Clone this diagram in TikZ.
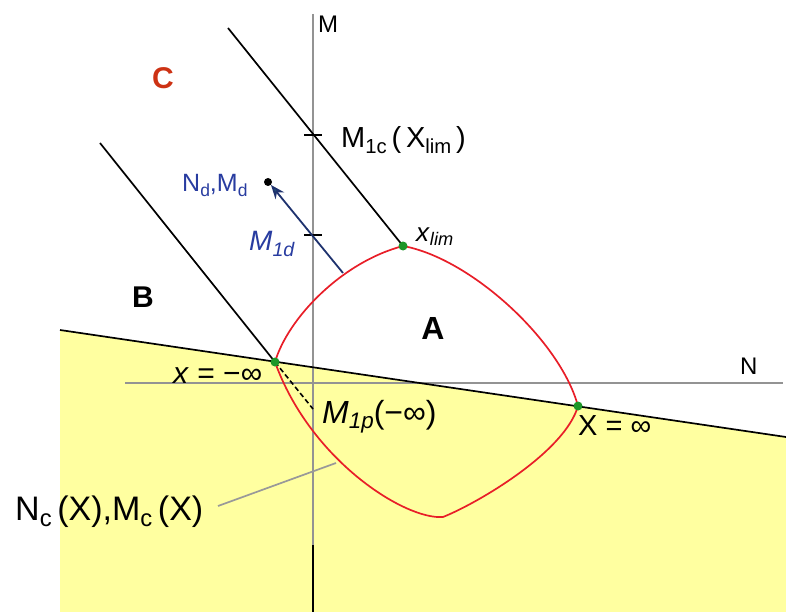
\documentclass[tikz,border=0pt]{standalone}
\usepackage{fontspec}
\setmainfont{Liberation Sans}
\usetikzlibrary{arrows.meta}
\definecolor{fillyellow}{RGB}{255,255,160}
\definecolor{curvered}{RGB}{232,30,40}
\definecolor{ptgreen}{RGB}{30,150,40}
\definecolor{cred}{RGB}{205,50,20}
\definecolor{lblue}{RGB}{40,60,160}
\definecolor{arrnavy}{RGB}{30,50,110}
\definecolor{arrteal}{RGB}{30,100,120}
\newcommand{\lowsub}[1]{\raisebox{-0.35ex}{\scalebox{0.7}{#1}}}
\newcommand{\fsz}[1]{\fontsize{#1}{#1}\selectfont}
\tikzset{
  axisline/.style={draw=gray!85, line width=1.5pt},
  blackline/.style={draw=black, line width=1.7pt},
  greenpt/.style={circle, fill=ptgreen, inner sep=0pt, minimum size=9pt},
  lbl/.style={inner sep=0pt, anchor=base west},
  region/.style={inner sep=0pt, font=\fsz{30}\bfseries},
}
\begin{document}
\begin{tikzpicture}[x=1pt,y=-1pt]
\useasboundingbox (0,0) rectangle (786,612);
% yellow region
\fill[fillyellow] (60,330) -- (786,437) -- (786,612) -- (60,612) -- cycle;
% axes
\coordinate (Mtop) at (313,14);
\coordinate (Mbot) at (313,612);
\coordinate (Nleft) at (125,383);
\coordinate (Nright) at (783,383);
\draw[axisline] (Mtop) -- (Mbot);
\draw[black, line width=1.5pt] (313,545) -- (Mbot);
\draw[axisline] (Nleft) -- (Nright);
\node[lbl] (Mlab) at (318,33) {\fsz{24}M};
\node[lbl] (Nlab) at (740,374) {\fsz{24}N};
% ticks
\coordinate (t1a) at (304,135); \coordinate (t1b) at (322,135);
\coordinate (t2a) at (304,235); \coordinate (t2b) at (322,235);
\draw[black, line width=1.5pt] (t1a) -- (t1b);
\draw[black, line width=1.5pt] (t2a) -- (t2b);
% key points
\coordinate (pmin) at (275,362);
\coordinate (plim) at (403,246);
\coordinate (pinf) at (578,406);
\coordinate (pbot) at (443,517);
\coordinate (pM1p) at (313,409);
% black lines
\coordinate (bl1) at (60,330);
\coordinate (bl2) at (786,437);
\draw[blackline] (bl1) -- (bl2);
\coordinate (d1) at (100,143);
\coordinate (d2) at (228,28);
\draw[blackline] (d1) -- (pmin);
\draw[blackline] (d2) -- (plim);
\draw[black, line width=1.6pt, dash pattern=on 5pt off 3pt] (pmin) -- (pM1p);
% red curve
\draw[curvered, line width=1.7pt]
  (pmin) .. controls (288,318) and (342,262) .. (plim)
  .. controls (470,258) and (560,340) .. (pinf)
  .. controls (565,452) and (478,503) .. (pbot)
  .. controls (405,520) and (310,460) .. (pmin);
% green points
\node[greenpt] (gmin) at (pmin) {};
\node[greenpt] (glim) at (plim) {};
\node[greenpt] (ginf) at (pinf) {};
% design point and arrow
\node[circle, fill=black, inner sep=0pt, minimum size=8pt] (dpt) at (268,182) {};
\coordinate (astart) at (343,273);
\draw[arrnavy, line width=1.8pt, -{Stealth[length=14pt,width=11pt,fill=arrteal]}] (astart) -- (dpt.south east);
% labels
\node[region, text=cred] (C) at (163,78) {C};
\node[region] (B) at (143,297) {B};
\node[region, font=\fsz{32}\bfseries] (A) at (433,328) {A};
\node[lbl] (M1c) at (341,148) {\fsz{29}M\lowsub{1c}\,(\,X\lowsub{lim}\,)};
\node[lbl] (xlim) at (416,241) {\fsz{26}\textit{x}\lowsub{\textit{lim}}};
\node[lbl, text=lblue] (NdMd) at (182,192) {\fsz{25}N\lowsub{d},M\lowsub{d}};
\node[lbl, text=lblue] (M1d) at (249,251) {\fsz{28}\textit{M}\lowsub{\textit{1d}}};
\node[lbl] (xmin) at (173,383) {\fsz{30}\textit{x} = −∞};
\node[lbl] (M1p) at (322,423) {\fsz{32}\textit{M}\lowsub{\textit{1p}}(−∞)};
\node[lbl] (xinf) at (578,435) {\fsz{29}X = ∞};
\node[lbl] (NcMc) at (15,520) {\fsz{34}N\lowsub{c}\,(X),M\lowsub{c}\,(X)};
% leader
\coordinate (lead) at (336,463);
\draw[gray!80, line width=1.7pt] (218,506) -- (lead);
\end{tikzpicture}
\end{document}
